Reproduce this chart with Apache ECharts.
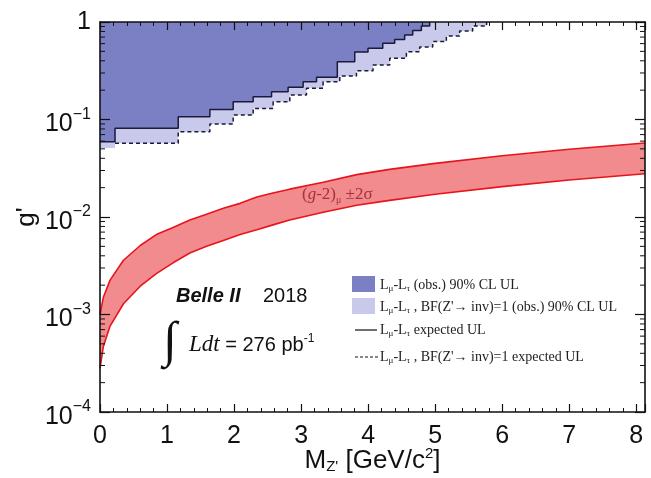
<!DOCTYPE html>
<html><head><meta charset="utf-8">
<script src="https://cdn.jsdelivr.net/npm/echarts@6/dist/echarts.min.js"></script>
<style>html,body{margin:0;padding:0;background:#fff}#c{width:651px;height:478px}</style>
</head><body><div id="c"></div>
<script>
// ---- tick labels ----
const xTicks = [0, 1, 2, 3, 4, 5, 6, 7, 8];
const yTickExps = [-4, -3, -2, -1, 0];
const yMinorMult = [2, 3, 4, 5, 6, 7, 8, 9];

// ---- (g-2)_mu +-2 sigma band ----
const bandMass  = [0, 0.05, 0.15, 0.35, 0.6, 0.84, 1.09, 1.34, 1.59, 1.84, 2.09, 2.34, 2.58, 2.83, 3.33, 3.83, 4.32, 5.0, 6.0, 7.0, 8.13];
const bandUpper = [1.0e-3, 1.5e-3, 2.25e-3, 3.6e-3, 5.1e-3, 6.6e-3, 7.8e-3, 9.3e-3, 1.07e-2, 1.23e-2, 1.38e-2, 1.6e-2, 1.76e-2, 1.93e-2, 2.27e-2, 2.72e-2, 3.08e-2, 3.55e-2, 4.25e-2, 4.95e-2, 5.75e-2];
const bandLower = [2.8e-4, 4.7e-4, 7.6e-4, 1.29e-3, 1.95e-3, 2.63e-3, 3.39e-3, 4.27e-3, 5.0e-3, 5.75e-3, 6.6e-3, 7.4e-3, 8.3e-3, 9.3e-3, 1.12e-2, 1.32e-2, 1.48e-2, 1.71e-2, 2.05e-2, 2.4e-2, 2.78e-2];

// ---- observed 90% CL UL, L_mu - L_tau (bin left edges + value, last = end point) ----
const obsMass = [0, 0.224, 1.167, 1.639, 1.987, 2.285, 2.559, 2.806, 3.030, 3.230, 3.540, 3.800, 3.998, 4.218, 4.396, 4.545, 4.665, 4.794, 4.918];
const obsG    = [0.0592, 0.0813, 0.107, 0.127, 0.152, 0.171, 0.193, 0.214, 0.244, 0.271, 0.392, 0.492, 0.537, 0.605, 0.663, 0.736, 0.818, 0.910, 1];

// ---- observed 90% CL UL, BF(Z'->inv)=1 ----
const obsInvMass = [0, 0.224, 1.167, 1.639, 1.987, 2.285, 2.583, 2.832, 3.080, 3.328, 3.577, 3.826, 4.073, 4.322, 4.571, 4.769, 4.963, 5.167, 5.365, 5.559, 5.767];
const obsInvG    = [0.051, 0.057, 0.075, 0.090, 0.111, 0.130, 0.152, 0.178, 0.209, 0.244, 0.279, 0.317, 0.362, 0.424, 0.496, 0.554, 0.631, 0.718, 0.809, 0.910, 1];

// ---- expected UL, L_mu - L_tau ----
const expMass = [0, 0.224, 1.167, 1.639, 1.987, 2.285, 2.559, 2.806, 3.030, 3.230, 3.540, 3.800, 3.998, 4.218, 4.396, 4.545, 4.665, 4.794, 4.918];
const expG    = [0.0592, 0.0813, 0.107, 0.127, 0.152, 0.171, 0.193, 0.214, 0.244, 0.271, 0.392, 0.492, 0.537, 0.605, 0.663, 0.736, 0.818, 0.910, 1];

// ---- expected UL, BF(Z'->inv)=1 ----
const expInvMass = [0.224, 1.167, 1.639, 1.987, 2.285, 2.583, 2.832, 3.080, 3.328, 3.577, 3.826, 4.073, 4.322, 4.571, 4.769, 4.963, 5.167, 5.365, 5.559, 5.767];
const expInvG    = [0.057, 0.075, 0.090, 0.111, 0.130, 0.152, 0.178, 0.209, 0.244, 0.279, 0.317, 0.362, 0.424, 0.496, 0.554, 0.631, 0.718, 0.809, 0.910, 1];

const pair = (xs, ys) => xs.map((x, i) => [x, ys[i]]);
const DARK = '#7b7fc3', LIGHT = '#c8c9eb', RED = '#e8141c', PINK = '#f28b8d';
const SANS = 'Liberation Sans', SERIF = 'Liberation Serif';

const yMinorValues = [];
yTickExps.slice(0, -1).forEach(e => yMinorMult.forEach(k => yMinorValues.push(k * Math.pow(10, e))));

const chart = echarts.init(document.getElementById('c'), null, {renderer: 'canvas'});

const xBase = {
  type: 'value', min: 0, max: 8.13, interval: 1, z: 10,
  axisLine: {show: true, onZero: false, lineStyle: {color: '#111', width: 1.6}},
  axisTick: {show: true, inside: true, length: 8, lineStyle: {color: '#111', width: 1.2}},
  minorTick: {show: true, splitNumber: 5, length: 4, lineStyle: {color: '#111', width: 1}},
  splitLine: {show: false}
};
const yBase = {
  type: 'log', logBase: 10, min: 1e-4, max: 1, z: 10,
  axisLine: {show: true, onZero: false, lineStyle: {color: '#111', width: 1.6}},
  axisTick: {show: true, inside: true, length: 10, lineStyle: {color: '#111', width: 1.2}},
  minorTick: {show: false},
  splitLine: {show: false}
};

function legRich() {
  return {
    t: {fontFamily: SERIF, fontSize: 14, fill: '#222'},
    s: {fontFamily: SERIF, fontSize: 9, fill: '#222', padding: [8, 0, 0, 0]}
  };
}

const option = {
  backgroundColor: '#ffffff',
  animation: false,
  grid: {left: 100, right: 6, top: 22, bottom: 66, containLabel: false, outerBoundsMode: 'none'},
  xAxis: [
    Object.assign({}, xBase, {
      position: 'bottom',
      name: '{m|M}{s|Z\'}{m| [GeV/c}{p|2}{m|]}',
      nameLocation: 'middle', nameGap: 34, nameMoveOverlap: false,
      nameTextStyle: {rich: {
        m: {fontFamily: SANS, fontSize: 26, color: '#111'},
        s: {fontFamily: SANS, fontSize: 15, color: '#111', padding: [12, 0, 0, 0]},
        p: {fontFamily: SANS, fontSize: 15, color: '#111', padding: [0, 0, 14, 0]}
      }},
      axisLabel: {
        show: true, margin: 12, fontFamily: SANS, fontSize: 25, color: '#111',
        formatter: v => xTicks.indexOf(v) >= 0 ? String(v) : ''
      }
    }),
    Object.assign({}, xBase, {position: 'top', axisLabel: {show: false}})
  ],
  yAxis: [
    Object.assign({}, yBase, {
      position: 'left',
      name: 'g\'', nameLocation: 'middle', nameGap: 60, nameRotate: 90, nameMoveOverlap: false,
      nameTextStyle: {fontFamily: SANS, fontSize: 26, color: '#111'},
      axisLabel: {
        show: true, margin: 9, color: '#111',
        formatter: v => {
          const e = Math.round(Math.log10(v));
          if (yTickExps.indexOf(e) < 0) return '';
          return e === 0 ? '{o|1}' : '{b|10}{e|\u2212' + (-e) + '}';
        },
        rich: {
          o: {fontFamily: SANS, fontSize: 25, color: '#111'},
          b: {fontFamily: SANS, fontSize: 25, color: '#111', padding: [10, 0, 0, 0]},
          e: {fontFamily: SANS, fontSize: 16, color: '#111', padding: [0, 0, 10, 0]}
        }
      }
    }),
    Object.assign({}, yBase, {position: 'right', axisLabel: {show: false}})
  ],
  series: [
    {
      name: 'obsInv', type: 'line', step: 'end', data: pair(obsInvMass, obsInvG),
      showSymbol: false, symbol: 'none', lineStyle: {width: 0},
      areaStyle: {origin: 'end', color: LIGHT, opacity: 1}, z: 1
    },
    {
      name: 'obs', type: 'line', step: 'end', data: pair(obsMass, obsG),
      showSymbol: false, symbol: 'none', lineStyle: {width: 0},
      areaStyle: {origin: 'end', color: DARK, opacity: 1}, z: 2
    },
    {
      name: 'bandFill', type: 'custom', coordinateSystem: 'cartesian2d', data: [[1, 0.01]], z: 3, clip: true,
      renderItem: (params, api) => {
        const pts = [];
        bandMass.forEach((m, i) => pts.push(api.coord([m, bandUpper[i]])));
        for (let i = bandMass.length - 1; i >= 0; i--) pts.push(api.coord([bandMass[i], bandLower[i]]));
        return {type: 'polygon', shape: {points: pts}, style: {fill: PINK, stroke: null}};
      }
    },
    {
      name: 'bandLow', type: 'line', data: pair(bandMass, bandLower), showSymbol: false, symbol: 'none',
      lineStyle: {color: RED, width: 1.6}, z: 4
    },
    {
      name: 'bandHigh', type: 'line', data: pair(bandMass, bandUpper), showSymbol: false, symbol: 'none',
      lineStyle: {color: RED, width: 1.6}, z: 4
    },
    {
      name: 'exp', type: 'line', step: 'end', data: pair(expMass, expG),
      showSymbol: false, symbol: 'none', lineStyle: {color: '#1a1a3a', width: 1.5}, z: 5
    },
    {
      name: 'expInv', type: 'line', step: 'end', data: pair(expInvMass, expInvG),
      showSymbol: false, symbol: 'none', lineStyle: {color: '#1a1a3a', width: 1.5, type: [4, 3]}, z: 5
    },
    {
      // log minor ticks on left and right frame
      name: 'yMinor', type: 'custom', coordinateSystem: 'cartesian2d', data: [[1, 0.01]], z: 12, clip: false, silent: true,
      renderItem: (params, api) => {
        const cs = params.coordSys;
        const children = [];
        yMinorValues.forEach(v => {
          const y = api.coord([0, v])[1];
          children.push({type: 'line', shape: {x1: cs.x, y1: y, x2: cs.x + 5, y2: y}, style: {stroke: '#111', lineWidth: 1}});
          children.push({type: 'line', shape: {x1: cs.x + cs.width - 5, y1: y, x2: cs.x + cs.width, y2: y}, style: {stroke: '#111', lineWidth: 1}});
        });
        return {type: 'group', children: children};
      }
    }
  ],
  graphic: [
    // band label
    {type: 'text', z: 20, style: {
      x: 302, y: 195, verticalAlign: 'middle',
      text: '{t|(}{i|g}{t|-2)}{s|\u03bc}{t| \u00b12\u03c3}',
      rich: {
        t: {fontFamily: SERIF, fontSize: 17, fill: '#a8303a'},
        i: {fontFamily: SERIF, fontSize: 17, fontStyle: 'italic', fill: '#a8303a'},
        s: {fontFamily: SERIF, fontSize: 10, fill: '#a8303a', padding: [11, 0, 0, 0]}
      }
    }},
    // Belle II 2018
    {type: 'text', z: 20, style: {x: 176, y: 296, verticalAlign: 'middle', text: 'Belle II',
      font: 'italic bold 20px "Liberation Sans"', fill: '#111'}},
    {type: 'text', z: 20, style: {x: 263, y: 296, verticalAlign: 'middle', text: '2018',
      font: '20px "Liberation Sans"', fill: '#111'}},
    // integral
    {type: 'text', z: 20, style: {x: 163, y: 343, verticalAlign: 'middle', text: '\u222b',
      font: '50px "Liberation Serif"', fill: '#111'}},
    {type: 'text', z: 20, style: {
      x: 189, y: 345, verticalAlign: 'middle',
      text: '{i|Ldt}{n| = 276 pb}{s|-1}',
      rich: {
        i: {fontFamily: SERIF, fontSize: 23, fontStyle: 'italic', fill: '#111'},
        n: {fontFamily: SANS, fontSize: 20, fill: '#111'},
        s: {fontFamily: SANS, fontSize: 12, fill: '#111', padding: [0, 0, 13, 0]}
      }
    }},
    // legend
    {type: 'rect', z: 20, shape: {x: 352, y: 276, width: 23, height: 16}, style: {fill: DARK}},
    {type: 'rect', z: 20, shape: {x: 352, y: 298, width: 23, height: 16}, style: {fill: LIGHT}},
    {type: 'line', z: 20, shape: {x1: 355, y1: 330, x2: 377, y2: 330}, style: {stroke: '#111', lineWidth: 1.2}},
    {type: 'line', z: 20, shape: {x1: 355, y1: 357, x2: 378, y2: 357}, style: {stroke: '#111', lineWidth: 1.2, lineDash: [3, 2]}},
    {type: 'text', z: 20, style: {x: 380, y: 285, verticalAlign: 'middle',
      text: '{t|L}{s|\u03bc}{t|-L}{s|\u03c4}{t| (obs.) 90% CL UL}', rich: legRich()}},
    {type: 'text', z: 20, style: {x: 380, y: 307, verticalAlign: 'middle',
      text: '{t|L}{s|\u03bc}{t|-L}{s|\u03c4}{t| , BF(Z\'\u2192 inv)=1 (obs.) 90% CL UL}', rich: legRich()}},
    {type: 'text', z: 20, style: {x: 380, y: 330, verticalAlign: 'middle',
      text: '{t|L}{s|\u03bc}{t|-L}{s|\u03c4}{t| expected UL}', rich: legRich()}},
    {type: 'text', z: 20, style: {x: 380, y: 357, verticalAlign: 'middle',
      text: '{t|L}{s|\u03bc}{t|-L}{s|\u03c4}{t| , BF(Z\'\u2192 inv)=1 expected UL}', rich: legRich()}}
  ]
};
chart.setOption(option);
</script>
</body></html>
